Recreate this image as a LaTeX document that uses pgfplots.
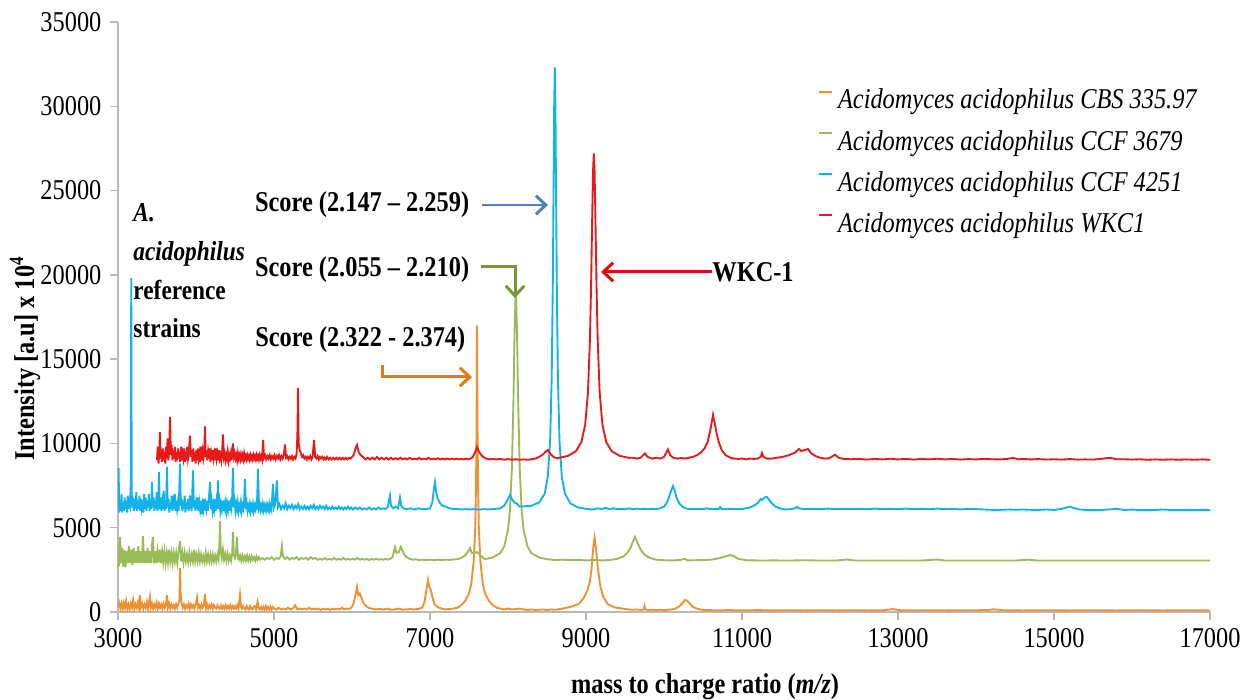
\documentclass[border=0pt]{standalone}
\usepackage{fontspec}
\setmainfont{LiberationSerif}[Extension=.ttf, UprightFont=*-Regular, BoldFont=*-Bold, ItalicFont=*-Italic, BoldItalicFont=*-BoldItalic, FakeStretch=0.85]
\usepackage{pgfplots}
\pgfplotsset{compat=1.18}
\usetikzlibrary{arrows.meta}
\definecolor{corange}{RGB}{237,145,50}
\definecolor{cgreen}{RGB}{155,187,89}
\definecolor{cblue}{RGB}{20,178,235}
\definecolor{cred}{RGB}{232,25,25}
\definecolor{aorange}{RGB}{228,120,20}
\definecolor{agreen}{RGB}{118,150,55}
\definecolor{ablue}{RGB}{79,129,189}
\definecolor{ared}{RGB}{225,10,10}
\begin{document}
\begin{tikzpicture}
\begin{axis}[
  scale only axis, width=15.4cm, height=8.32cm,
  xmin=3000, xmax=17000, ymin=0, ymax=35000,
  xtick={3000,5000,...,17000}, ytick={0,5000,...,35000},
  axis lines=left,
  axis line style={gray!55, line width=0.6pt, -},
  tick style={gray!55, line width=0.6pt},
  tick align=outside, major tick length=1.1mm,
  ticklabel style={font=\fontsize{11.5}{13}\selectfont},
  /pgf/number format/assume math mode=true,
  /pgf/number format/set thousands separator={},
  scaled ticks=false,
  xlabel={mass to charge ratio (\textit{m/z})},
  ylabel={Intensity [a.u] x 10\textsuperscript{4}},
  label style={font=\bfseries\fontsize{11.5}{13}\selectfont},
  xlabel style={at={(axis description cs:0.5376,-0.127)}, anchor=center},
  ylabel style={at={(axis description cs:-0.085,0.43)}, anchor=center},
  legend cell align=left,
  legend style={draw=none, fill=none, at={(0.634,0.904)}, anchor=north west,
    font=\fontsize{11.5}{13}\selectfont\itshape, row sep=3pt},
  legend image code/.code={\draw[#1, line width=0.8pt] (0cm,0.13cm) -- (0.18cm,0.13cm);},
  every axis plot/.append style={line width=0.75pt},
]
% CBS 335.97
\addplot[corange] coordinates {
(3000,300)(3015,550)(3030,200)(3045,500)(3060,150)(3075,550)(3090,250)(3105,650)(3120,200)(3135,450)(3150,150)(3165,500)(3180,250)(3195,700)(3210,200)(3225,450)(3240,250)(3255,550)(3270,200)(3282,1000)(3295,300)(3310,500)(3325,200)(3340,450)(3355,250)(3370,600)(3385,200)(3398,600)(3409,900)(3420,250)(3435,500)(3450,200)(3465,450)(3480,250)(3495,550)(3510,200)(3525,500)(3540,250)(3555,450)(3570,200)(3585,500)(3600,250)(3615,450)(3628,1000)(3640,250)(3655,500)(3670,200)(3685,450)(3700,250)(3715,400)(3730,200)(3745,450)(3760,250)(3775,500)(3788,700)(3795,2600)(3802,1200)(3815,500)(3830,250)(3845,450)(3860,200)(3875,400)(3890,250)(3905,500)(3920,200)(3935,450)(3950,250)(3965,400)(3980,200)(3995,450)(4013,850)(4025,250)(4040,400)(4055,200)(4070,450)(4085,250)(4100,400)(4115,1050)(4128,250)(4140,450)(4155,200)(4170,400)(4185,250)(4200,450)(4215,200)(4230,400)(4245,250)(4260,200)(4275,400)(4290,250)(4305,200)(4320,400)(4335,200)(4350,350)(4365,200)(4380,400)(4395,200)(4410,350)(4425,200)(4440,400)(4455,200)(4470,350)(4485,200)(4500,350)(4515,200)(4530,400)(4545,200)(4564,1000)(4578,300)(4590,200)(4605,350)(4620,200)(4635,150)(4650,350)(4665,200)(4680,150)(4695,350)(4710,200)(4725,150)(4740,300)(4755,350)(4770,150)(4790,600)(4805,200)(4820,150)(4835,300)(4850,150)(4865,300)(4880,150)(4895,350)(4910,150)(4925,300)(4940,150)(4955,300)(4970,150)(4985,300)(5000,200)
(5030,150)(5060,250)(5090,150)(5120,200)(5150,150)(5180,250)(5210,150)(5240,200)(5270,400)(5300,150)(5330,200)(5360,150)(5390,200)(5420,150)(5450,250)(5480,150)(5510,200)(5540,150)(5570,200)(5600,120)(5630,200)(5660,150)(5690,180)(5720,130)(5750,200)(5780,150)(5810,200)(5840,150)(5870,250)(5900,150)(5930,200)(5960,180)(5990,250)(6020,500)(6040,900)(6064,1480)(6080,1000)(6100,1100)(6120,850)(6150,500)(6180,350)(6210,250)(6250,200)(6300,150)(6350,180)(6400,150)(6450,200)(6500,130)(6550,150)(6600,200)(6650,130)(6700,150)(6750,170)(6800,150)(6850,180)(6900,250)(6930,600)(6950,1200)(6974,1900)(6990,1500)(7010,1300)(7035,800)(7060,450)(7100,280)(7150,200)(7200,150)(7250,180)
(7300,200)(7350,250)(7400,400)(7450,650)(7500,1100)(7530,1700)(7560,3000)(7580,5000)(7590,7500)(7597,11000)(7603,17000)(7609,11000)(7616,7500)(7626,5000)(7646,3000)(7676,1700)(7706,1100)(7756,650)(7806,400)(7856,250)(7906,200)
(7950,150)(8000,200)(8050,150)(8100,170)(8150,200)(8200,150)(8250,120)(8300,150)(8350,120)(8400,130)(8450,150)(8500,120)(8550,150)(8600,130)(8650,160)(8700,200)
(8750,250)(8800,300)(8850,370)(8920,520)(8980,900)(9020,1300)(9050,1800)(9070,2500)(9090,3700)(9110,4420)(9130,3700)(9150,2700)(9180,1600)(9220,900)(9280,460)(9370,270)(9500,180)(9550,150)
(9600,130)(9650,150)(9700,120)(9740,150)(9750,350)(9760,150)(9800,120)(9850,130)(9900,110)(9950,130)(10000,110)(10050,130)(10100,150)(10150,200)(10200,350)(10240,550)(10270,720)(10300,650)(10330,500)(10370,300)(10420,200)(10480,130)(10550,110)
(10700,100)(10850,110)(11000,90)(11200,110)(11400,90)(11600,100)(11800,90)(12000,100)(12200,90)(12400,100)(12600,90)(12800,100)(12935,170)(13050,90)(13300,100)(13600,90)(13900,100)(14150,110)(14220,160)(14350,100)(14600,90)(14900,100)(15200,90)(15500,100)(15800,90)(16100,100)(16400,90)(16700,100)(17000,90)};
\addlegendentry{Acidomyces acidophilus CBS 335.97}
% CCF 3679
\addplot[cgreen] coordinates {
(3000,2600)(3008,4000)(3015,2700)(3026,4450)(3038,2900)(3050,3800)(3065,2700)(3080,3700)(3095,2650)(3110,3600)(3125,2900)(3140,3900)(3155,2900)(3170,3700)(3185,2800)(3200,3800)(3215,2900)(3230,3600)(3245,2900)(3260,3900)(3275,2900)(3290,3600)(3305,2900)(3320,4500)(3335,2900)(3350,3600)(3365,2900)(3380,3800)(3395,2900)(3410,3600)(3425,2900)(3435,4000)(3449,4450)(3460,2900)(3475,3600)(3490,2900)(3505,3600)(3520,2950)(3535,3700)(3550,2900)(3565,3600)(3580,2950)(3595,3600)(3610,2900)(3625,3500)(3640,2950)(3655,3700)(3670,3000)(3685,3500)(3700,2900)(3715,3500)(3730,3000)(3745,3500)(3760,2900)(3775,3500)(3795,4200)(3810,3000)(3825,3500)(3840,2950)(3855,3500)(3870,3000)(3885,3400)(3900,2950)(3915,3500)(3930,3000)(3945,3400)(3960,3000)(3975,3700)(3990,3000)(4005,3400)(4020,3000)(4035,3500)(4050,3000)(4065,3400)(4080,3000)(4095,3300)(4110,2950)(4125,3500)(4140,3000)(4155,3400)(4170,3000)(4185,3400)(4200,3000)(4215,3400)(4230,3000)(4245,3350)(4260,3000)(4275,3400)(4290,3100)(4300,4000)(4308,5400)(4316,3700)(4330,3200)(4345,3700)(4360,3100)(4375,3450)(4390,3050)(4405,3450)(4420,3050)(4435,3350)(4450,3050)(4465,3500)(4474,4750)(4485,3400)(4500,3200)(4512,3450)(4525,4450)(4538,3200)(4550,3100)(4565,3350)(4580,3050)(4595,3350)(4610,3050)(4625,3300)(4640,3050)(4655,3350)(4670,3050)(4685,3300)(4700,3050)(4715,3300)(4730,3100)(4745,3250)(4760,3050)(4775,3300)(4790,3100)(4805,3250)(4820,3100)
(4850,3200)(4880,3100)(4910,3200)(4940,3150)(4970,3250)(5000,3100)(5030,3200)(5060,3150)(5085,3300)(5102,3900)(5115,3300)(5140,3150)(5170,3250)(5200,3100)(5230,3200)(5260,3150)(5290,3250)(5320,3100)(5350,3200)(5380,3150)(5410,3200)(5440,3100)(5470,3250)(5500,3150)(5530,3200)(5560,3100)(5590,3150)(5620,3100)(5650,3200)(5680,3100)(5710,3150)(5740,3100)(5770,3200)(5800,3100)(5830,3150)(5860,3100)(5890,3200)(5920,3100)(5950,3150)(5980,3100)(6010,3150)(6040,3100)(6070,3200)(6100,3100)(6130,3150)(6160,3100)(6190,3150)(6220,3080)(6250,3150)(6280,3100)(6310,3150)(6340,3100)(6370,3130)(6400,3100)(6430,3150)(6460,3100)(6490,3150)(6520,3250)(6551,3850)(6570,3500)(6600,3550)(6625,3850)(6641,3700)(6670,3400)(6700,3250)(6740,3150)(6780,3100)(6820,3120)(6860,3080)(6900,3100)(6950,3080)(7000,3100)(7050,3070)(7100,3100)(7150,3080)(7200,3100)(7250,3090)(7300,3110)(7350,3130)(7400,3200)(7450,3350)(7490,3600)(7513,3800)(7535,3500)(7560,3480)(7600,3560)
(7700,3130)(7800,3230)(7900,3490)(7950,3880)(8000,4860)(8025,6030)(8050,8530)(8070,12560)(8085,16800)(8100,19200)(8115,16800)(8130,12560)(8150,8530)(8175,6030)(8200,4860)(8250,3880)(8300,3490)(8400,3230)(8500,3130)
(8600,3080)(8700,3100)(8800,3070)(8900,3090)(9000,3060)(9100,3080)(9200,3060)(9300,3080)(9400,3150)(9480,3300)(9530,3500)(9570,3800)(9600,4150)(9628,4450)(9660,4100)(9700,3700)(9750,3400)(9820,3200)(9900,3100)(10000,3070)(10100,3060)(10200,3080)(10270,3150)(10300,3060)(10400,3070)(10500,3080)(10600,3100)(10700,3180)(10780,3280)(10846,3380)(10900,3300)(10950,3150)(11050,3070)(11150,3060)(11250,3050)(11400,3060)(11600,3050)(11800,3070)(12000,3050)(12200,3050)(12346,3110)(12450,3050)(12700,3050)(13000,3050)(13300,3050)(13500,3110)(13600,3050)(13900,3050)(14200,3050)(14500,3050)(14666,3100)(14800,3050)(15100,3050)(15500,3050)(16000,3050)(16500,3050)(17000,3050)};
\addlegendentry{Acidomyces acidophilus CCF 3679}
% CCF 4251
\addplot[cblue] coordinates {
(3000,6300)(3008,8540)(3016,5900)(3026,6600)(3035,6000)(3045,7000)(3055,5900)(3065,6500)(3075,6000)(3085,6800)(3095,6100)(3105,6600)(3115,5900)(3125,6900)(3135,6100)(3145,6500)(3155,6300)(3163,7500)(3170,19800)(3176,7000)(3185,6200)(3195,6800)(3205,6000)(3215,6700)(3225,6100)(3235,7100)(3245,6000)(3255,6600)(3265,6100)(3275,6900)(3285,6000)(3295,6700)(3305,6200)(3315,6600)(3325,5900)(3335,7000)(3345,6100)(3355,6800)(3365,6000)(3375,6600)(3385,6200)(3395,7000)(3405,6000)(3415,6700)(3425,6100)(3436,7710)(3446,6200)(3456,6800)(3466,6000)(3476,6600)(3486,6100)(3496,7100)(3506,6000)(3516,6600)(3526,8300)(3536,6100)(3546,6800)(3556,6000)(3566,6500)(3576,6100)(3586,7200)(3596,6000)(3606,6600)(3616,6100)(3628,8600)(3638,6200)(3648,6700)(3658,5900)(3668,6500)(3678,6100)(3688,6900)(3698,6000)(3708,6500)(3718,6100)(3728,7000)(3738,6000)(3748,6600)(3758,6100)(3768,6500)(3778,6000)(3795,8800)(3805,6300)(3815,6700)(3825,6000)(3835,6600)(3845,6100)(3855,6900)(3865,5900)(3875,6500)(3885,6100)(3895,6700)(3905,6000)(3915,6500)(3925,6100)(3935,6900)(3945,6000)(3962,8400)(3972,6200)(3982,6600)(3992,6000)(4002,6500)(4012,6100)(4022,6800)(4032,6000)(4042,6500)(4052,6100)(4062,6600)(4072,5800)(4082,6400)(4092,6100)(4102,6700)(4112,6000)(4122,6400)(4132,6100)(4142,6600)(4152,6000)(4162,6500)(4180,7700)(4192,6100)(4202,6500)(4212,6000)(4222,6400)(4232,6100)(4242,6700)(4252,6000)(4262,6500)(4272,6100)(4282,7800)(4292,6100)(4302,6500)(4312,6000)(4322,6400)(4332,6100)(4342,6600)(4352,6000)(4362,6400)(4372,6100)(4382,6500)(4392,6000)(4402,6400)(4412,6100)(4422,6600)(4432,6000)(4442,6400)(4452,6100)(4462,6500)(4474,8540)(4486,6200)(4496,6500)(4506,6000)(4516,6400)(4526,6100)(4536,6500)(4546,6000)(4556,6300)(4566,6100)(4576,6500)(4586,6000)(4596,6300)(4606,6100)(4616,6400)(4628,7900)(4640,6100)(4650,6400)(4660,6000)(4670,6300)(4680,6100)(4690,6400)(4700,6000)(4710,6300)(4720,6100)(4730,6400)(4740,6000)(4750,6300)(4760,6100)(4770,6400)(4780,6050)(4795,8480)(4808,6200)(4818,6400)(4828,6050)(4838,6300)(4848,6100)(4858,6400)(4868,6050)(4878,6300)(4888,6100)(4898,6350)(4908,6050)(4918,6300)(4928,6100)(4938,6400)(4948,6050)(4958,6300)(4968,6100)(4987,7600)(5000,6200)(5015,6400)(5038,7800)(5050,6200)
(5070,6400)(5090,6100)(5110,6300)(5130,6150)(5150,6450)(5170,6100)(5190,6300)(5210,6150)(5230,6350)(5250,6100)(5270,6300)(5290,6150)(5310,6400)(5330,6100)(5350,6250)(5370,6100)(5390,6300)(5410,6100)(5430,6250)(5450,6100)(5470,6300)(5490,6150)(5510,6350)(5530,6100)(5550,6250)(5570,6100)(5590,6300)(5610,6150)(5630,6250)(5650,6100)(5670,6300)(5690,6100)(5710,6200)(5730,6100)(5750,6250)(5770,6100)(5790,6200)(5810,6100)(5830,6250)(5850,6100)(5870,6200)(5890,6080)(5910,6200)(5930,6100)(5950,6250)(5970,6100)(5990,6200)(6010,6080)(6040,6200)(6070,6100)(6100,6200)(6130,6080)(6160,6150)(6190,6080)(6220,6200)(6250,6080)(6280,6150)(6310,6080)(6340,6200)(6370,6100)(6400,6150)(6430,6100)(6460,6250)(6487,6900)(6500,6300)(6530,6150)(6560,6250)(6590,6150)(6615,6780)(6630,6300)(6660,6150)(6700,6100)(6750,6150)(6800,6080)(6850,6150)(6900,6100)(6950,6100)(7000,6150)(7030,6500)(7050,7300)(7064,7710)(7080,7100)(7100,6700)(7130,6450)(7160,6300)(7200,6250)(7250,6150)(7300,6100)(7350,6120)(7400,6080)(7450,6100)(7500,6080)(7550,6100)(7600,6080)(7650,6080)(7700,6100)(7750,6080)(7800,6100)(7850,6120)(7900,6150)(7950,6300)(7990,6600)(8025,6940)(8050,6700)(8080,6500)(8110,6450)
(8150,6250)(8300,6300)(8400,6500)(8470,7012)(8510,8025)(8540,10155)(8560,13800)(8575,19660)(8585,25700)(8592,30000)(8600,32300)(8608,30000)(8615,25700)(8625,19660)(8640,13800)(8660,10155)(8690,8025)(8730,7012)(8800,6438)(8900,6196)(9050,6087)
(9100,6080)(9150,6150)(9200,6100)(9250,6180)(9300,6100)(9350,6150)(9400,6100)(9450,6120)(9500,6100)(9550,6150)(9600,6100)(9650,6130)(9700,6100)(9750,6120)(9800,6100)(9850,6120)(9900,6100)(9950,6150)(10000,6250)(10040,6500)(10070,6900)(10100,7300)(10115,7470)(10135,7200)(10160,6800)(10200,6400)(10250,6200)(10300,6120)(10350,6100)(10400,6100)(10450,6120)(10500,6100)(10550,6150)(10600,6100)(10650,6120)(10700,6100)(10720,6230)(10740,6100)(10800,6100)(10850,6120)(10900,6100)(10950,6120)(11000,6100)(11050,6150)(11100,6200)(11150,6300)(11200,6450)(11240,6700)(11260,6650)(11290,6800)(11320,6820)(11340,6700)(11380,6450)(11430,6250)(11500,6120)(11560,6080)(11620,6100)(11680,6150)(11705,6230)(11730,6150)(11800,6100)(11900,6120)(12000,6100)(12100,6130)(12200,6100)(12300,6120)(12400,6100)(12500,6120)(12600,6100)(12700,6130)(12800,6100)(12900,6120)(13000,6100)(13100,6130)(13200,6100)(13300,6120)(13400,6100)(13500,6130)(13600,6100)(13700,6120)(13800,6080)(13900,6120)(14000,6100)(14100,6080)(14200,6060)(14300,6050)(14400,6080)(14500,6060)(14600,6080)(14700,6060)(14800,6050)(14900,6080)(15000,6050)(15100,6120)(15200,6250)(15300,6100)(15400,6050)(15500,6050)(15600,6050)(15700,6080)(15800,6120)(15900,6050)(16000,6070)(16100,6050)(16200,6050)(16300,6050)(16400,6080)(16500,6050)(16600,6050)(16700,6060)(16800,6050)(16900,6060)(17000,6050)};
\addlegendentry{Acidomyces acidophilus CCF 4251}
% WKC1
\addplot[cred] coordinates {
(3500,9000)(3510,9800)(3520,8800)(3530,9500)(3538,10680)(3546,9100)(3556,9600)(3566,8900)(3576,9700)(3586,9000)(3596,9500)(3606,8800)(3616,9800)(3626,9100)(3636,10300)(3646,9000)(3656,9600)(3667,11570)(3678,9300)(3688,9900)(3698,9000)(3708,9600)(3718,9100)(3728,9800)(3738,8900)(3748,9500)(3758,9000)(3768,9700)(3778,9100)(3788,9500)(3798,8900)(3808,9800)(3818,9000)(3828,9400)(3838,9100)(3848,9700)(3858,8900)(3868,9500)(3878,9000)(3888,9800)(3898,9100)(3908,9400)(3923,10460)(3935,9200)(3945,9600)(3955,8900)(3965,9700)(3975,9000)(3985,9500)(3995,8800)(4005,9600)(4015,9000)(4025,9700)(4035,9100)(4045,9400)(4055,8900)(4065,9800)(4075,9000)(4085,9500)(4095,9100)(4105,9400)(4115,11010)(4125,9200)(4135,9600)(4145,9000)(4155,9500)(4165,9100)(4175,9700)(4185,8900)(4195,9400)(4205,9000)(4215,9600)(4225,9100)(4235,9400)(4245,9000)(4255,9700)(4265,9100)(4275,9400)(4285,9000)(4295,9600)(4305,9100)(4315,9300)(4325,9000)(4335,9500)(4346,10530)(4357,9200)(4367,9400)(4377,9000)(4387,9300)(4397,9100)(4407,9500)(4417,9000)(4427,9300)(4437,9100)(4447,9400)(4457,9000)(4474,10000)(4487,9200)(4497,9400)(4507,9100)(4517,9300)(4527,9000)(4537,9400)(4547,9100)(4557,9300)(4567,9050)(4577,9350)(4587,9100)(4597,9300)(4607,9050)(4617,9400)(4627,9100)(4637,9250)(4647,9050)(4657,9300)(4667,9100)(4677,9250)(4687,9050)(4697,9300)(4707,9100)(4717,9250)(4727,9050)(4737,9300)(4747,9100)(4757,9250)(4767,9050)(4777,9300)(4787,9100)(4797,9250)(4807,9050)(4817,9300)(4827,9100)(4837,9250)(4847,9050)(4860,10200)(4872,9150)(4885,9300)(4900,9050)(4915,9250)(4930,9100)(4945,9300)(4960,9050)(4975,9250)(4990,9100)(5005,9300)(5020,9050)(5035,9250)(5050,9100)(5065,9300)(5080,9050)(5095,9250)(5110,9100)(5125,9300)(5141,9930)(5155,9150)(5170,9250)(5185,9050)(5200,9200)(5215,9100)(5230,9250)(5245,9050)(5260,9200)(5275,9100)(5290,9350)(5300,10500)(5308,13290)(5316,10000)(5330,9600)(5345,9400)(5360,9200)(5375,9300)(5390,9100)(5405,9200)(5420,9050)(5435,9200)(5450,9100)(5465,9250)(5480,9050)(5495,9200)(5513,10200)(5528,9200)(5545,9100)(5560,9250)(5575,9050)(5590,9200)(5605,9100)(5620,9200)(5635,9050)(5650,9150)(5665,9050)(5680,9200)(5700,9050)(5720,9150)(5740,9050)(5760,9150)(5780,9050)(5800,9150)(5820,9050)(5840,9150)(5860,9050)(5880,9150)(5900,9050)(5920,9150)(5940,9050)(5960,9150)(5980,9100)(6000,9200)(6020,9300)(6045,9700)(6064,9900)(6085,9500)(6110,9300)(6140,9200)(6170,9050)(6200,9150)(6230,9050)(6260,9150)(6290,9050)(6320,9200)(6350,9050)(6380,9150)(6410,9050)(6440,9150)(6470,9050)(6500,9150)(6530,9050)(6560,9120)(6590,9050)(6620,9150)(6650,9050)(6680,9120)(6710,9050)(6740,9150)(6770,9050)(6800,9100)(6830,9050)(6860,9150)(6890,9050)(6920,9100)(6950,9050)(6980,9150)(7010,9050)(7040,9100)(7070,9050)(7100,9120)(7130,9050)(7160,9100)(7190,9050)(7220,9100)(7250,9050)(7280,9100)(7310,9050)(7340,9100)(7370,9050)(7400,9080)(7430,9050)(7460,9100)(7490,9050)(7520,9100)(7550,9200)(7580,9500)(7602,9790)(7625,9550)(7650,9350)(7680,9200)(7720,9100)(7760,9050)(7800,9080)(7850,9050)(7900,9080)(7950,9030)(8000,9070)(8050,9030)(8100,9060)(8150,9030)(8200,9050)(8250,9030)(8300,9060)(8350,9100)(8400,9200)(8450,9350)(8490,9550)(8513,9610)(8540,9400)(8570,9250)(8600,9150)
(8650,9140)(8770,9260)(8870,9535)(8940,10070)(8990,11126)(9025,13026)(9050,16100)(9065,19306)(9080,23560)(9090,26130)(9100,27200)(9110,26130)(9120,23560)(9135,19306)(9150,16100)(9175,13026)(9210,11126)(9260,10070)(9330,9535)(9430,9264)(9550,9143)
(9600,9150)(9650,9100)(9700,9150)(9756,9400)(9790,9200)(9850,9100)(9900,9150)(9950,9100)(10000,9200)(10050,9650)(10080,9300)(10120,9150)(10170,9100)(10220,9130)(10270,9100)(10320,9150)(10370,9200)(10420,9300)(10470,9450)(10520,9700)(10560,10100)(10590,10700)(10610,11200)(10628,11690)(10650,11200)(10670,10700)(10700,10100)(10740,9600)(10790,9300)(10850,9150)(10900,9100)(10950,9080)(11000,9100)(11050,9050)(11100,9100)(11150,9080)(11200,9100)(11240,9200)(11256,9430)(11275,9200)(11320,9100)(11380,9100)(11450,9150)(11520,9200)(11600,9300)(11680,9450)(11730,9670)(11760,9550)(11800,9600)(11846,9670)(11880,9450)(11940,9250)(12000,9150)(12060,9100)(12120,9120)(12192,9330)(12240,9150)(12300,9080)(12400,9060)
(12500,9080)(12600,9040)(12700,9080)(12800,9050)(12900,9090)(13000,9050)(13100,9080)(13200,9040)(13300,9080)(13400,9050)(13500,9090)(13600,9050)(13700,9080)(13800,9040)(13900,9070)(14000,9050)(14100,9080)(14200,9060)(14300,9050)(14400,9080)(14475,9140)(14550,9050)(14600,9080)(14700,9050)(14800,9070)(14900,9040)(15000,9060)(15100,9040)(15200,9070)(15300,9040)(15400,9050)(15500,9040)(15600,9080)(15720,9150)(15800,9060)(15900,9060)(16000,9040)(16100,9060)(16200,9030)(16300,9050)(16400,9030)(16500,9050)(16600,9030)(16700,9050)(16800,9030)(16900,9050)(17000,9030)};
\addlegendentry{Acidomyces acidophilus WKC1}

% annotations
\node[anchor=north west, align=left, inner sep=0pt, font=\bfseries\fontsize{11}{15.5}\selectfont]
  at (axis cs:3192,24250) {\textit{A.}\\\textit{acidophilus}\\reference\\strains};
\node[anchor=east, font=\bfseries\fontsize{11.5}{13}\selectfont] at (axis cs:7615,24143) {Score (2.147 -- 2.259)};
\node[anchor=east, font=\bfseries\fontsize{11.5}{13}\selectfont] at (axis cs:7615,20287) {Score (2.055 -- 2.210)};
\node[anchor=east, font=\bfseries\fontsize{11.5}{13}\selectfont] at (axis cs:7565,16135) {Score (2.322 - 2.374)};
\node[anchor=west, font=\bfseries\fontsize{11.5}{13}\selectfont, inner sep=0pt] at (axis cs:10615,20169) {WKC-1};
\draw[ablue, line width=1.2pt, -{Straight Barb[length=1.4mm,width=2.6mm]}] (axis cs:7667,24143) -- (axis cs:8513,24143);
\draw[agreen, line width=1.2pt, -{Straight Barb[length=1.4mm,width=2.6mm]}] (axis cs:7654,20465) -- (axis cs:8090,20465) -- (axis cs:8090,18627);
\draw[aorange, line width=1.2pt, -{Straight Barb[length=1.4mm,width=2.6mm]}] (axis cs:6385,14652) -- (axis cs:6385,13940) -- (axis cs:7538,13940);
\draw[ared, line width=1.2pt, -{Straight Barb[length=1.4mm,width=2.6mm]}] (axis cs:10615,20169) -- (axis cs:9192,20169);
\coordinate (SW) at (rel axis cs:0,0);
\coordinate (NE) at (rel axis cs:1,1);
\end{axis}
\pgfresetboundingbox
\path[use as bounding box] ([xshift=-16.64mm,yshift=-12.41mm]SW) rectangle ([xshift=4.51mm,yshift=3.10mm]NE);
\end{tikzpicture}
\end{document}
